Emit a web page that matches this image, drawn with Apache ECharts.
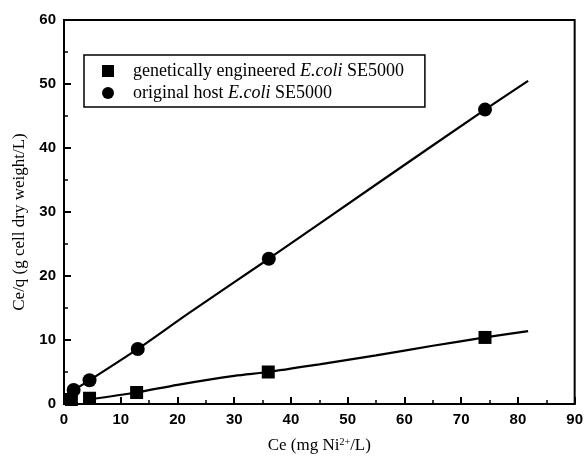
<!DOCTYPE html>
<html>
<head>
<meta charset="utf-8">
<script src="https://cdn.jsdelivr.net/npm/echarts@6/dist/echarts.min.js"></script>
<style>html,body{margin:0;padding:0;background:#fff}#c{width:586px;height:463px}</style>
</head>
<body>
<div id="c"></div>
<script>
var xTicks = [0, 10, 20, 30, 40, 50, 60, 70, 80, 90];
var yTicks = [0, 10, 20, 30, 40, 50, 60];
var seriesNames = ['genetically engineered E.coli SE5000', 'original host E.coli SE5000'];
// measured points
var engX = [1.3, 4.5, 12.8, 36.0, 74.2];
var engY = [0.7, 0.9, 1.8, 5.0, 10.4];
var hostX = [1.7, 4.5, 13.0, 36.1, 74.2];
var hostY = [2.2, 3.7, 8.6, 22.7, 46.0];
// fitted curves as drawn
var engCurveX = [4.5, 12.8, 20, 30, 36, 45, 55, 65, 74.2, 81.8];
var engCurveY = [0.75, 1.8, 3.0, 4.4, 5.0, 6.2, 7.6, 9.1, 10.4, 11.4];
var hostCurveX = [1.7, 4.5, 13, 22, 36.1, 55, 74.2, 81.8];
var hostCurveY = [2.2, 3.7, 8.6, 14.2, 22.7, 34.3, 46.0, 50.5];

function zip(a, b) { return a.map(function (v, i) { return [v, b[i]]; }); }

var chart = echarts.init(document.getElementById('c'), null, {renderer: 'canvas'});
var serif = '"Liberation Serif", "Times New Roman", serif';
var sans = '"Liberation Sans", Arial, sans-serif';

function legendFmt(name) {
  var idx = name.indexOf('E.coli');
  return '{sp|}{n|' + name.slice(0, idx) + '}{i|E.coli}{n|' + name.slice(idx + 6) + '}';
}

chart.setOption({
  animation: false,
  backgroundColor: '#fff',
  grid: {left: 64, right: 8, top: 20, bottom: 59, show: true, borderColor: '#000', borderWidth: 2, backgroundColor: 'transparent'},
  legend: {
    data: seriesNames,
    orient: 'vertical',
    left: 84, top: 55,
    padding: [6, 21, 4, 18],
    itemGap: 2,
    itemWidth: 12, itemHeight: 12,
    borderColor: '#000', borderWidth: 1.5, borderRadius: 0,
    formatter: legendFmt,
    textStyle: {
      color: '#000', fontFamily: serif, fontSize: 18, lineHeight: 20,
      rich: {
        sp: {width: 14},
        n: {fontFamily: serif, fontSize: 18, color: '#000', lineHeight: 20},
        i: {fontFamily: serif, fontSize: 18, fontStyle: 'italic', color: '#000', lineHeight: 20}
      }
    }
  },
  xAxis: {
    type: 'value', min: xTicks[0], max: xTicks[xTicks.length - 1], interval: 10,
    name: 'Ce (mg Ni{sup|2+}/L)', nameLocation: 'middle', nameGap: 33,
    nameTextStyle: {fontFamily: serif, fontSize: 17, color: '#000',
      rich: {sup: {fontFamily: serif, fontSize: 10, verticalAlign: 'top', padding: [0, 0, 8, 0], color: '#000'}}},
    axisLine: {show: true, onZero: false, lineStyle: {color: '#000', width: 2}},
    axisTick: {show: true, inside: true, length: 7, lineStyle: {color: '#000', width: 2}},
    minorTick: {show: true, splitNumber: 2, length: 4, lineStyle: {color: '#000', width: 1.5}},
    axisLabel: {color: '#000', fontFamily: sans, fontWeight: 'bold', fontSize: 15, margin: 8},
    splitLine: {show: false}
  },
  yAxis: {
    type: 'value', min: yTicks[0], max: yTicks[yTicks.length - 1], interval: 10,
    name: 'Ce/q (g cell dry weight/L)', nameLocation: 'middle', nameGap: 34,
    nameTextStyle: {fontFamily: serif, fontSize: 17, color: '#000', padding: [0, 20, 0, 0]},
    axisLine: {show: true, onZero: false, lineStyle: {color: '#000', width: 2}},
    axisTick: {show: true, inside: true, length: 7, lineStyle: {color: '#000', width: 2}},
    minorTick: {show: true, splitNumber: 2, length: 4, lineStyle: {color: '#000', width: 1.5}},
    axisLabel: {color: '#000', fontFamily: sans, fontWeight: 'bold', fontSize: 15, margin: 8},
    splitLine: {show: false}
  },
  series: [
    {type: 'line', data: zip(engCurveX, engCurveY), smooth: 0.3, showSymbol: false, symbol: 'none',
      lineStyle: {color: '#000', width: 2.2}, z: 2, silent: true},
    {type: 'line', data: zip(hostCurveX, hostCurveY), smooth: 0.3, showSymbol: false, symbol: 'none',
      lineStyle: {color: '#000', width: 2.2}, z: 2, silent: true},
    {name: seriesNames[0], type: 'scatter', data: zip(engX, engY), symbol: 'rect', symbolSize: 13,
      itemStyle: {color: '#000', opacity: 1}, z: 3},
    {name: seriesNames[1], type: 'scatter', data: zip(hostX, hostY), symbol: 'circle', symbolSize: 14,
      itemStyle: {color: '#000', opacity: 1}, z: 3}
  ]
});
</script>
</body>
</html>
